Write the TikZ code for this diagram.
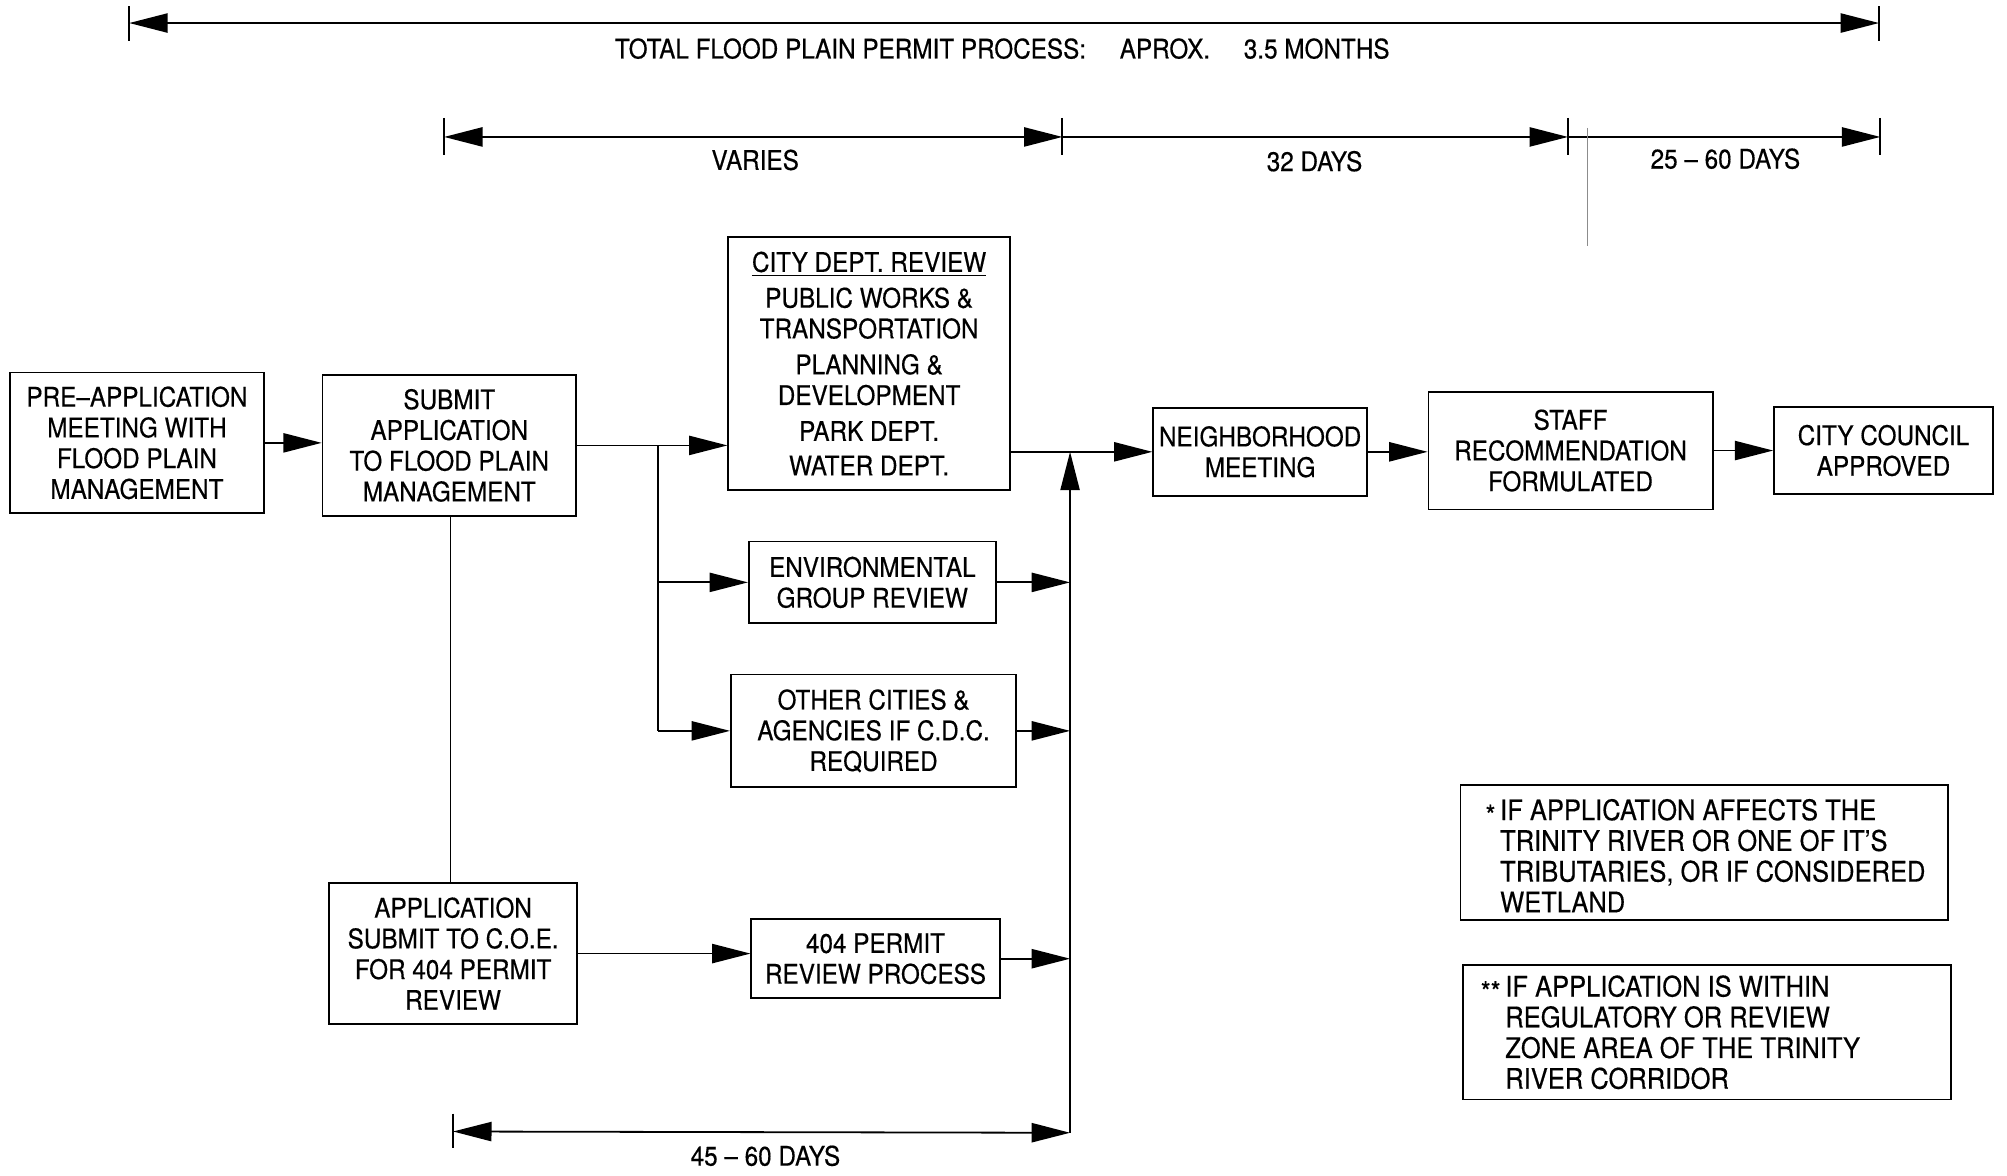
\documentclass[tikz,border=0pt]{standalone}
\usepackage{fontspec}
\setmainfont{TeX Gyre Heros}[FakeStretch=0.9,FakeBold=0.4]
\usetikzlibrary{arrows.meta}
\newcommand\bx{\fontsize{12}{13.66}\selectfont}
\newcommand\nx{\fontsize{12.6}{13.66}\selectfont}
\newcommand\myast{\raisebox{-0.35ex}{*}}
\begin{document}
\begin{tikzpicture}[x=0.02cm, y=-0.02cm,
  box/.style={draw, line width=0.8pt, align=center, inner sep=0pt, font=\bx},
  notebox/.style={draw, line width=0.8pt, inner sep=0pt, font=\nx},
  arr/.style={line width=0.8pt, -{Triangle[length=0.6cm,width=0.3cm]}},
  darr/.style={line width=0.8pt, {Triangle[length=0.6cm,width=0.3cm]}-{Triangle[length=0.6cm,width=0.3cm]}},
  ln/.style={line width=0.8pt},
  tickln/.style={line width=0.9pt},
  lbl/.style={font=\bx, inner sep=0pt}]
\useasboundingbox (0,0) rectangle (1568,918);

% ---- boxes ----
\node[box, minimum width=3.96cm, minimum height=2.2cm] (pre) at (107,346)
  {PRE--APPLICATION\\ MEETING WITH\\ FLOOD PLAIN\\ MANAGEMENT};
\node[box, minimum width=3.96cm, minimum height=2.2cm] (submit) at (351,348)
  {SUBMIT\\ APPLICATION\\ TO FLOOD PLAIN\\ MANAGEMENT};
\node[box, minimum width=4.4cm, minimum height=3.96cm] (city) at (679,284)
  {\underline{CITY DEPT. REVIEW}\\[0.08cm] PUBLIC WORKS \&\\ TRANSPORTATION\\[0.08cm]
   PLANNING \&\\ DEVELOPMENT\\[0.08cm] PARK DEPT.\\[0.06cm] WATER DEPT.};
\node[box, minimum width=3.86cm, minimum height=1.28cm] (env) at (681.5,455)
  {ENVIRONMENTAL\\ GROUP REVIEW};
\node[box, minimum width=4.46cm, minimum height=1.76cm] (other) at (682.5,571)
  {OTHER CITIES \&\\ AGENCIES IF C.D.C.\\ REQUIRED};
\node[box, minimum width=3.88cm, minimum height=2.2cm] (app) at (354,745)
  {APPLICATION\\ SUBMIT TO C.O.E.\\ FOR 404 PERMIT\\ REVIEW};
\node[box, minimum width=3.88cm, minimum height=1.24cm] (p404) at (684,749)
  {404 PERMIT\\ REVIEW PROCESS};
\node[box, minimum width=3.34cm, minimum height=1.38cm] (neigh) at (984.5,353)
  {NEIGHBORHOOD\\ MEETING};
\node[box, minimum width=4.44cm, minimum height=1.84cm] (staff) at (1227,352)
  {STAFF\\ RECOMMENDATION\\ FORMULATED};
\node[box, minimum width=3.42cm, minimum height=1.36cm] (council) at (1471.5,352)
  {CITY COUNCIL\\ APPROVED};

% ---- notes ----
\node[notebox, minimum width=7.62cm, minimum height=2.12cm] (note1) at (1331.5,666)
  {\hspace{0.62cm}\parbox[c]{7.0cm}{\raggedright\vspace{0.1cm}
   \leavevmode\llap{\myast\,}IF APPLICATION AFFECTS THE\\ TRINITY RIVER OR ONE OF IT'S\\
   TRIBUTARIES, OR IF CONSIDERED\\ WETLAND}};
\node[notebox, minimum width=7.62cm, minimum height=2.1cm] (note2) at (1333.5,806.5)
  {\hspace{0.66cm}\parbox[c]{6.96cm}{\raggedright
   \leavevmode\llap{\myast\myast\,}IF APPLICATION IS WITHIN\\ REGULATORY OR REVIEW\\
   ZONE AREA OF THE TRINITY\\ RIVER CORRIDOR}};

% ---- connectors ----
\coordinate (br) at (514,348);
\coordinate (coll) at (836,353);
\coordinate (collbot) at (836,885);

\draw[arr] (pre.east |- 0,346) -- (submit.west |- 0,346);
\draw[arr] (submit.east) -- (submit.east -| city.west);
\draw[ln] (br) -- (br |- other.west);
\draw[arr] (br |- env.west) -- (env.west);
\draw[arr] (br |- other.west) -- (other.west);
\draw[ln] (submit.south -| 352,0) -- (app.north -| 352,0);
\draw[arr] (app.east) -- (app.east -| p404.west);

\draw[arr] (city.east |- neigh.west) -- (neigh.west);
\draw[arr] (collbot) -- (coll);
\draw[arr] (env.east) -- (env.east -| coll);
\draw[arr] (other.east) -- (other.east -| coll);
\draw[arr] (p404.east) -- (p404.east -| coll);
\draw[arr] (neigh.east) -- (neigh.east -| staff.west);
\draw[arr] (staff.east) -- (staff.east -| council.west);

% ---- dimension lines ----
% total
\coordinate (t1) at (101,18);
\coordinate (t2) at (1468,18);
\draw[tickln] (101,5) -- (101,32);
\draw[tickln] (1468,5) -- (1468,32);
\draw[darr] (t1) -- (t2);
\node[lbl] (ttot) at (783,38) {TOTAL FLOOD PLAIN PERMIT PROCESS:\hspace{1em} APROX.\hspace{1em} 3.5 MONTHS};

% second row
\coordinate (s1) at (347,107);
\coordinate (s2) at (830,107);
\coordinate (s3) at (1225,107);
\coordinate (s4) at (1469,107);
\foreach \xx in {347,830,1225,1469} \draw[tickln] (\xx,92) -- (\xx,121);
\draw[darr] (s1) -- (s2);
\draw[arr] (s2) -- (s3);
\draw[arr] (s3) -- (s4);
\node[lbl] (lvar) at (590,125) {VARIES};
\node[lbl] (l32) at (1027,126) {32 DAYS};
\node[lbl] (l25) at (1348,124) {25 -- 60 DAYS};
\draw[line width=0.3pt, black!45] (1240,100) -- (1240,192);

% bottom
\coordinate (b1) at (354,884);
\draw[tickln] (354,870) -- (354,897);
\draw[darr] (b1) -- (collbot);
\node[lbl] (l45) at (598,903) {45 -- 60 DAYS};
\end{tikzpicture}
\end{document}
